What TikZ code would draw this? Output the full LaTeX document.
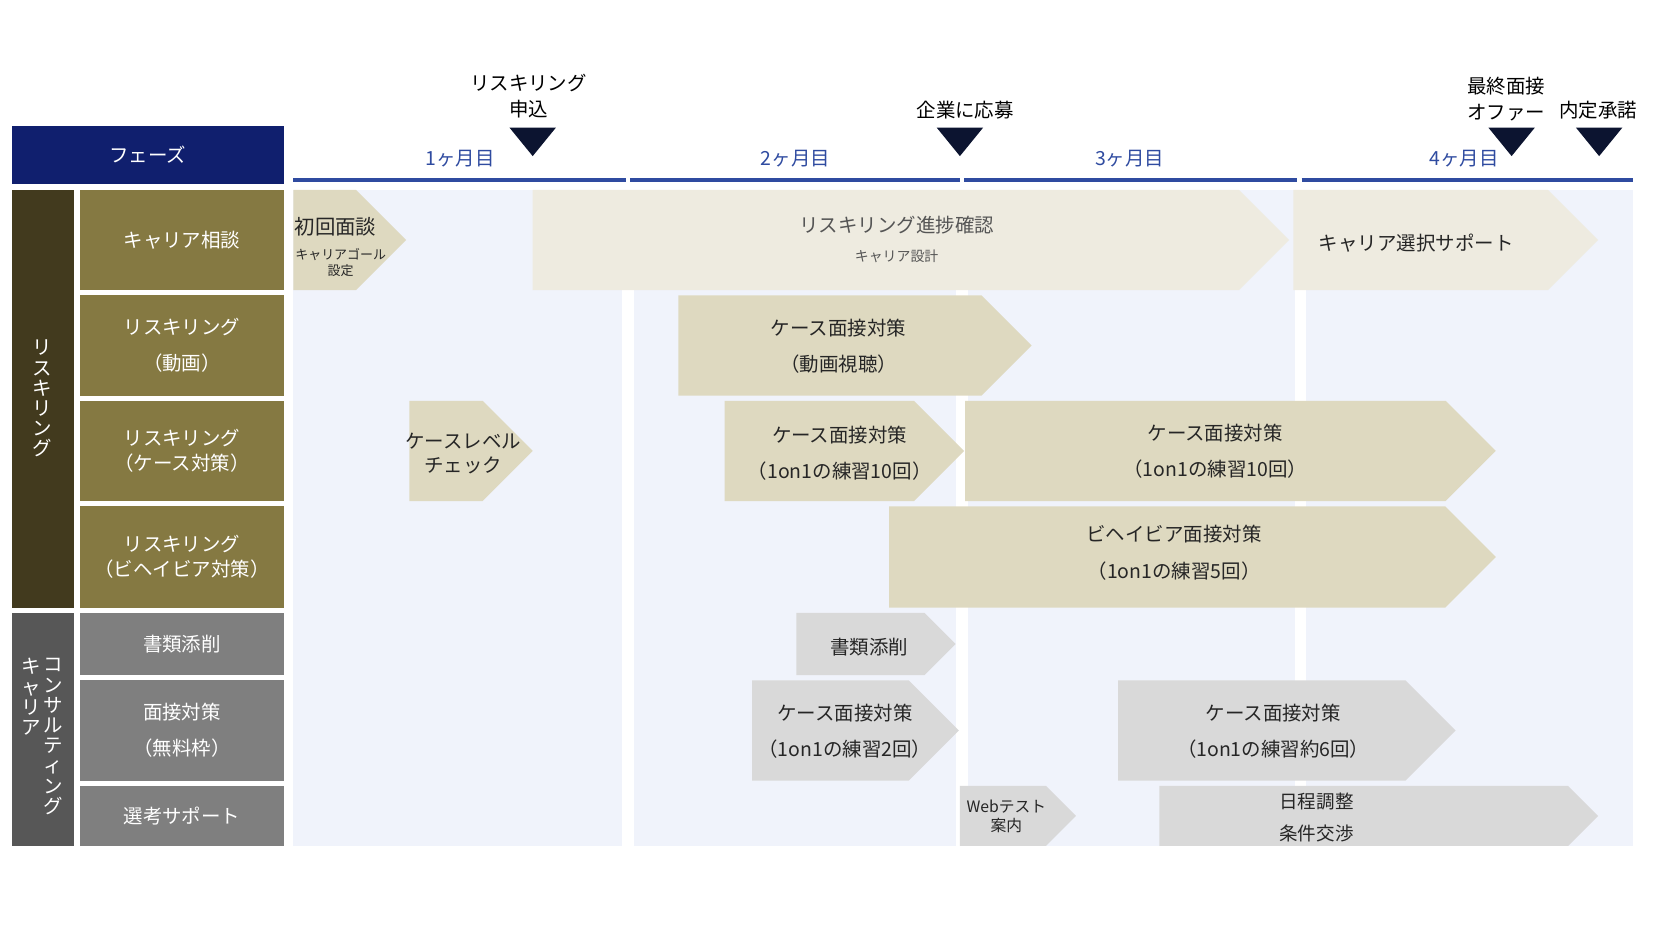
\documentclass[tikz,border=0pt]{standalone}
\usepackage{fontspec}
\setmainfont{Noto Sans CJK JP}
\usepackage{xcolor}
\definecolor{navyhead}{RGB}{16,31,110}
\definecolor{monthblue}{RGB}{47,75,160}
\definecolor{grpbrown}{RGB}{66,58,30}
\definecolor{rowolive}{RGB}{133,121,66}
\definecolor{grpgray}{RGB}{87,87,87}
\definecolor{rowgray}{RGB}{127,127,127}
\definecolor{panelbg}{RGB}{240,243,251}
\definecolor{beigedk}{RGB}{222,217,192}
\definecolor{beigelt}{RGB}{238,235,224}
\definecolor{chevgray}{RGB}{217,217,217}
\definecolor{trinavy}{RGB}{12,20,48}
\definecolor{txtdark}{RGB}{38,38,38}
\definecolor{txtgray}{RGB}{85,85,85}
\usepackage{tikz}
\usetikzlibrary{positioning}
\tikzset{
  phase_head/.style={rectangle,fill=navyhead,text=white,
    minimum width=5.16cm,minimum height=1.1cm,inner sep=0pt,
    font=\fontsize{10.5}{13}\selectfont},
  month_lbl/.style={text=monthblue,inner sep=0pt,
    font=\fontsize{10.5}{13}\selectfont},
  month_bar/.style={draw=monthblue,line width=2.2pt},
  grp_box/.style={rectangle,text=white,align=center,
    minimum width=1.18cm,inner sep=0pt,
    font=\fontsize{10.5}{10.9}\selectfont},
  row_box/.style={rectangle,text=white,align=center,
    minimum width=3.86cm,inner sep=0pt},
  row_one/.style={font=\fontsize{10.5}{13}\selectfont},
  row_wide/.style={font=\fontsize{10.5}{19.5}\selectfont},
  row_tight/.style={font=\fontsize{10.5}{13.6}\selectfont},
  chev_txt/.style={text=txtdark,align=center,inner sep=0pt,
    font=\fontsize{10.5}{13}\selectfont},
  chev_two/.style={chev_txt,font=\fontsize{10.5}{19.5}\selectfont},
  chev_small/.style={text=txtdark,align=center,inner sep=0pt,
    font=\fontsize{7}{9}\selectfont},
  chev_web/.style={text=txtdark,align=center,inner sep=0pt,
    font=\fontsize{8.5}{10.2}\selectfont},
  mark_lbl/.style={text=black,align=center,inner sep=0pt,
    font=\fontsize{10.5}{14}\selectfont},
  mark_tri/.style={fill=trinavy},
}
\newcommand\chevbar[5]{%
  \fill[#1] (#2,#4) -- ({#3-(#5-#4)/2},#4) -- (#3,{(#4+#5)/2})
    -- ({#3-(#5-#4)/2},#5) -- (#2,#5) -- cycle;}

\begin{document}
\begin{tikzpicture}[x=0.02cm,y=-0.02cm]
  \useasboundingbox (0,0) rectangle (1568,882);
  \fill[panelbg] (278,180) rectangle (590,802);
  \fill[panelbg] (601,180) rectangle (906,802);
  \fill[panelbg] (918,180) rectangle (1228,802);
  \fill[panelbg] (1238,180) rectangle (1548,802);

  \node (phase) [phase_head] at (140,146.5) {フェーズ};
  \draw[month_bar] (278,171) -- (593,171);
  \draw[month_bar] (597,171) -- (910,171);
  \draw[month_bar] (914,171) -- (1230,171);
  \draw[month_bar] (1234,171) -- (1548,171);
  \node (m1) [month_lbl] at (436,150) {1ヶ月目};
  \node (m2) [month_lbl] at (754,150) {2ヶ月目};
  \node (m3) [month_lbl] at (1071,150) {3ヶ月目};
  \node (m4) [month_lbl] at (1388,150) {4ヶ月目};

  \fill[mark_tri] (483,121) -- (527,121) -- (505,148) -- cycle;
  \fill[mark_tri] (888,121) -- (932,121) -- (910,148) -- cycle;
  \fill[mark_tri] (1411,121) -- (1455,121) -- (1433,148) -- cycle;
  \fill[mark_tri] (1494,121) -- (1538,121) -- (1516,148) -- cycle;
  \node (apply) [mark_lbl] at (501,91) {リスキリング\\申込};
  \node (entry) [mark_lbl] at (915,104) {企業に応募};
  \node (final) [mark_lbl] at (1428,94) {最終面接\\オファー};
  \node (accept) [mark_lbl] at (1515,104) {内定承諾};

  \node (g_reskill) [grp_box,fill=grpbrown,minimum height=7.92cm] at (40.5,378)
    {リ\\ス\\キ\\リ\\ン\\グ};
  \node (g_consult) [grp_box,fill=grpgray,minimum height=4.42cm] at (40.5,691.5) {};
  \node (g_consult_l) [grp_box,anchor=north] at (30,624) {キ\\ャ\\リ\\ア};
  \node (g_consult_r) [grp_box,anchor=north] at (50,624) {コ\\ン\\サ\\ル\\テ\\ィ\\ン\\グ};

  \node (r_career) [row_box,row_one,fill=rowolive,minimum height=1.9cm] at (172.5,227.5)
    {キャリア相談};
  \node (r_video) [row_box,row_wide,fill=rowolive,minimum height=1.9cm] at (172.5,327.5)
    {リスキリング\\（動画）};
  \node (r_case) [row_box,row_tight,fill=rowolive,minimum height=1.9cm] at (172.5,427.5)
    {リスキリング\\（ケース対策）};
  \node (r_behav) [row_box,row_tight,fill=rowolive,minimum height=1.92cm] at (172.5,528)
    {リスキリング\\（ビヘイビア対策）};
  \node (r_docs) [row_box,row_one,fill=rowgray,minimum height=1.18cm] at (172.5,610.5)
    {書類添削};
  \node (r_intv) [row_box,row_wide,fill=rowgray,minimum height=1.9cm] at (172.5,692.5)
    {面接対策\\（無料枠）};
  \node (r_select) [row_box,row_one,fill=rowgray,minimum height=1.14cm] at (172.5,773.5)
    {選考サポート};

  \chevbar{beigedk}{278}{385}{180}{275}
  \chevbar{beigelt}{505}{1222}{180}{275}
  \chevbar{beigelt}{1226}{1515}{180}{275}
  \chevbar{beigedk}{643}{978}{280}{375}
  \chevbar{beigedk}{388}{505}{380}{475}
  \chevbar{beigedk}{687}{914}{380}{475}
  \chevbar{beigedk}{915}{1418}{380}{475}
  \chevbar{beigedk}{843}{1418}{480}{576}
  \chevbar{chevgray}{755}{906}{581}{640}
  \chevbar{chevgray}{713}{909}{645}{740}
  \chevbar{chevgray}{1060}{1380}{645}{740}
  \chevbar{chevgray}{910}{1020}{745}{802}
  \chevbar{chevgray}{1099}{1515}{745}{802}

  \node (first) [chev_txt,anchor=west,font=\fontsize{11}{13}\selectfont] at (279,215) {初回面談};
  \node (goal) [chev_small] at (323,249) {キャリアゴール\\設定};
  \node (progress) [chev_txt,text=txtgray] at (850,213) {リスキリング進捗確認};
  \node (design) [chev_small,text=txtgray,font=\fontsize{7.5}{9}\selectfont] at (850,243) {キャリア設計};
  \node (choice) [chev_txt,anchor=west] at (1250,230) {キャリア選択サポート};
  \node (video) [chev_two] at (795,328) {ケース面接対策\\（動画視聴）};
  \node (level) [chev_txt] at (439,430) {ケースレベル\\チェック};
  \node (case_a) [chev_two] at (796,430) {ケース面接対策\\（1on1の練習10回）};
  \node (case_b) [chev_two] at (1152,428) {ケース面接対策\\（1on1の練習10回）};
  \node (behav) [chev_two] at (1113,524) {ビヘイビア面接対策\\（1on1の練習5回）};
  \node (docs) [chev_txt] at (824,613) {書類添削};
  \node (intv_a) [chev_two] at (801,693) {ケース面接対策\\（1on1の練習2回）};
  \node (intv_b) [chev_two] at (1207,693) {ケース面接対策\\（1on1の練習約6回）};
  \node (web) [chev_web] at (954,774) {Webテスト\\案内};
  \node (sched) [chev_two,font=\fontsize{10}{17.6}\selectfont] at (1248,775) {日程調整\\条件交渉};
\end{tikzpicture}
\end{document}
